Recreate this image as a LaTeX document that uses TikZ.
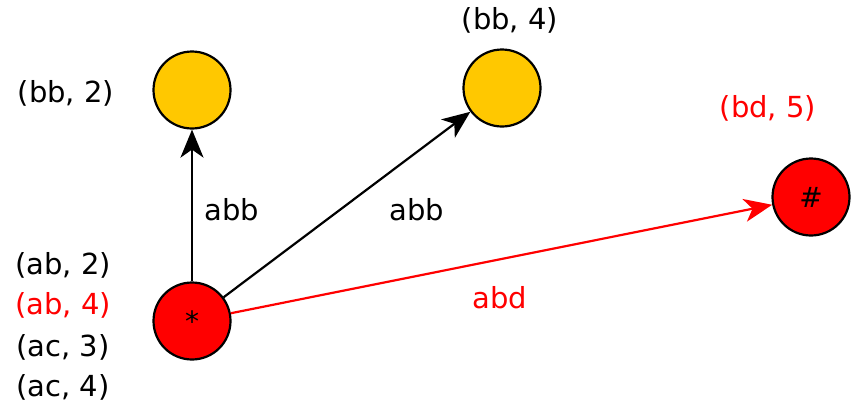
\documentclass[tikz,border=0pt]{standalone}
\usepackage{fontspec}
\setmainfont{DejaVu Sans}
\usetikzlibrary{arrows.meta, positioning}
\definecolor{statered}{RGB}{255, 0, 0}
\definecolor{stateyellow}{RGB}{255, 200, 0}
\tikzset{
  state/.style={circle, draw=black, line width=2.2pt, minimum size=77pt, inner sep=0pt,
                font=\fontsize{28}{32}\selectfont},
  tag/.style={font=\fontsize{29}{33}\selectfont, inner sep=0pt},
  edge/.style={line width=2.2pt, -{Stealth[length=28pt, width=23pt, inset=8pt]}},
}
\begin{document}
\begin{tikzpicture}[x=1pt, y=-1pt]
  \useasboundingbox (0,0) rectangle (856,405);
  % states
  \node[state, fill=statered] (star) at (192,321) {*};
  \node[state, fill=stateyellow] (bbtwo) at (192,90) {};
  \node[state, fill=stateyellow] (bbfour) at (502,88) {};
  \node[state, fill=statered] (hash) at (811,197) {\#};
  % tags
  \node[tag] (tbbtwo) at (66,93) {(bb, 2)};
  \node[tag] (tbbfour) at (510,20) {(bb, 4)};
  \node[tag, text=statered] (tbdfive) at (768,108) {(bd, 5)};
  \node[tag] (tabtwo) at (63,265) {(ab, 2)};
  \node[tag, text=statered] (tabfour) at (63,305) {(ab, 4)};
  \node[tag] (tacthree) at (63,347) {(ac, 3)};
  \node[tag] (tacfour) at (63,387) {(ac, 4)};
  % transitions
  \draw[edge] (star) -- (bbtwo);
  \draw[edge] (star) -- (bbfour);
  \draw[edge, draw=statered, fill=statered] (star) -- (hash);
  \node[tag] (lone) at (232,210) {abb};
  \node[tag] (ltwo) at (417,210) {abb};
  \node[tag, text=statered] (lthree) at (500,298) {abd};
\end{tikzpicture}
\end{document}
